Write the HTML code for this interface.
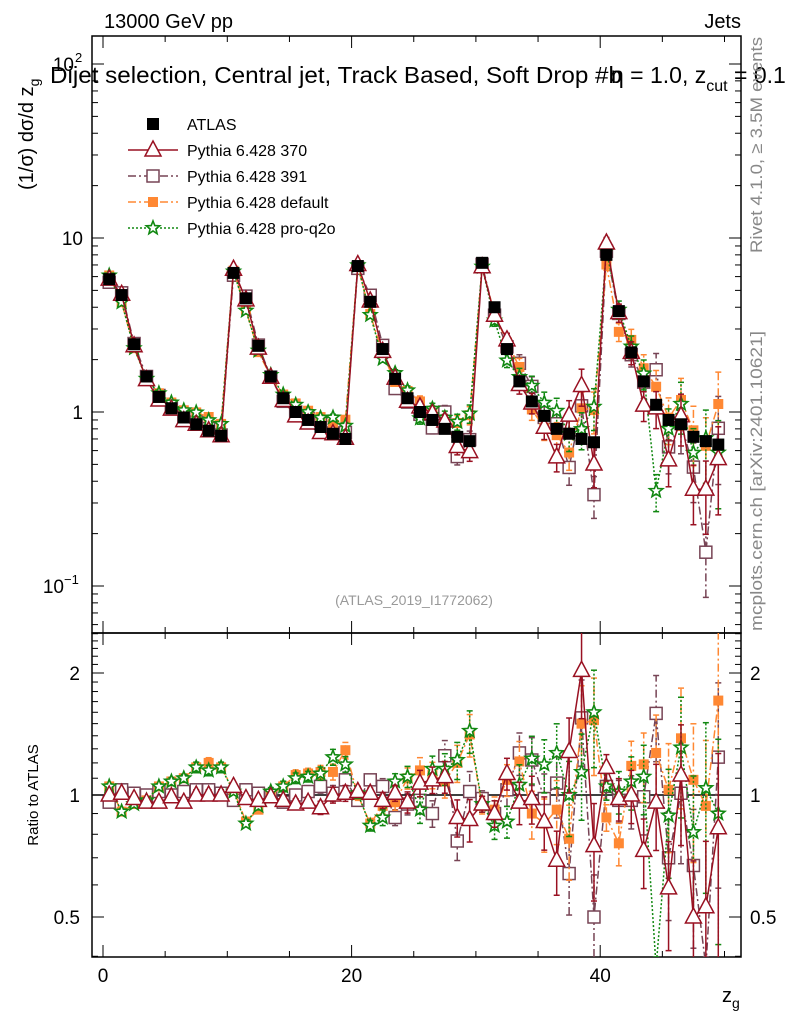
<!DOCTYPE html>
<html><head><meta charset="utf-8"><style>
html,body{margin:0;background:#fff;width:786px;height:1024px;overflow:hidden;}
svg{display:block;font-family:"Liberation Sans",sans-serif;}
</style></head><body>
<svg id="c" width="786" height="1024" viewBox="0 0 786 1024"></svg>
<script>
const atlas=[5.8,4.7,2.45,1.6,1.22,1.05,0.93,0.85,0.78,0.73,
6.3,4.5,2.4,1.6,1.2,1.0,0.9,0.82,0.75,0.70,
6.9,4.3,2.3,1.55,1.2,1.0,0.9,0.8,0.72,0.68,
7.2,4.0,2.3,1.5,1.15,0.95,0.8,0.75,0.7,0.67,
8.0,3.8,2.2,1.5,1.1,0.9,0.85,0.72,0.68,0.65];
const ratio370=[1.0,1.01,0.98,0.96,0.96,0.99,0.96,1.0,1.0,1.0,1.05,0.98,0.97,0.99,0.97,0.95,0.96,0.93,1.0,1.01,1.02,1.01,0.97,1.01,0.96,
1.07,1.09,1.11,0.88,0.87,0.95,0.9,1.13,0.96,0.98,0.86,0.69,1.28,2.03,0.75,1.17,0.98,1.0,0.73,0.96,0.59,1.12,0.5,0.53,0.83];
const ratio391=[0.96,1.03,1.01,1.0,1.02,1.0,1.02,1.03,1.03,1.01,0.97,1.03,1.01,0.99,0.96,1.0,1.02,1.05,1.01,1.09,0.97,1.09,1.05,0.88,0.95,
0.97,0.9,1.25,0.77,1.02,0.98,0.9,1.03,1.27,1.22,0.98,1.07,0.64,1.55,0.5,1.05,0.97,0.97,0.99,1.59,0.7,1.01,0.67,0.23,1.24];
const ratioDef=[1.05,0.91,0.95,0.97,1.05,1.08,1.1,1.17,1.2,1.17,1.03,0.86,0.92,1.0,1.05,1.12,1.13,1.14,1.14,1.29,1.0,0.85,0.94,0.96,1.1,
1.15,1.12,1.08,1.2,1.41,0.94,0.92,1.09,1.21,0.9,0.85,0.92,0.78,1.5,1.53,0.88,0.76,1.18,1.19,1.27,1.03,1.38,1.09,0.94,1.71];
const ratioQ2o=[1.05,0.91,0.95,0.97,1.05,1.08,1.1,1.17,1.15,1.17,1.02,0.85,0.94,1.02,1.05,1.1,1.11,1.13,1.24,1.19,1.01,0.84,0.88,1.08,1.11,
0.92,1.16,1.16,1.22,1.44,0.95,0.84,0.86,1.06,1.23,1.19,1.27,1.0,1.14,1.6,1.05,1.02,1.08,1.11,0.32,0.89,1.31,0.81,1.04,0.9];
const relErr=[0.01,0.01,0.01,0.01,0.01,0.015,0.015,0.02,0.02,0.02,0.01,0.01,0.015,0.015,0.02,0.02,0.02,0.025,0.03,0.03,0.02,0.02,0.03,0.03,0.04,
0.05,0.05,0.06,0.07,0.08,0.03,0.05,0.06,0.08,0.09,0.1,0.12,0.14,0.16,0.18,0.05,0.08,0.1,0.13,0.16,0.2,0.22,0.25,0.3,0.35];
const xTicks=[0,20,40];
const ratioTicks=[0.5,1,2];

const NS="http://www.w3.org/2000/svg";
const svg=document.getElementById('c');
function el(t,a,p){const e=document.createElementNS(NS,t);for(const k in a)e.setAttribute(k,a[k]);(p||svg).appendChild(e);return e;}
const L=92,R=741,T1=36,B1=633,B2=957;
const X=v=>103+12.43*v;
const YM=v=>412-174*Math.log10(v);
const YR=r=>795-122*Math.log2(r);

const defs=el('defs',{});
const c1=el('clipPath',{id:'cm'},defs);el('rect',{x:L,y:T1,width:R-L,height:B1-T1},c1);
const c2=el('clipPath',{id:'cr'},defs);el('rect',{x:L,y:B1,width:R-L,height:B2-B1},c2);

let f=el('rect',{x:L,y:T1,width:R-L,height:B1-T1,fill:'none',stroke:'#000','stroke-width':1.5});

f=el('rect',{x:L,y:B1,width:R-L,height:B2-B1,fill:'none',stroke:'#000','stroke-width':1.5});


const gT=el('g',{stroke:'#000','stroke-width':1});

for(let d=-2;d<=2;d++)for(let m=1;m<10;m++){const v=m*Math.pow(10,d);const y=YM(v);if(y<T1||y>B1)continue;const len=m==1?12:6;
el('line',{x1:L,x2:L+len,y1:y,y2:y},gT);el('line',{x1:R,x2:R-len,y1:y,y2:y},gT);}
for(let k=3;k<=25;k++){const r=k/10;const y=YR(r);if(y<B1||y>B2)continue;const len=(r==0.5||r==1||r==2)?12:6;
el('line',{x1:L,x2:L+len,y1:y,y2:y},gT);el('line',{x1:R,x2:R-len,y1:y,y2:y},gT);}
for(let v=0;v<=50;v+=5){const x=X(v);const len=(v%20==0)?12:6;
[[T1,1],[B1,-1],[B1,1],[B2,-1]].forEach(([y,s])=>el('line',{x1:x,x2:x,y1:y,y2:y+s*len},gT));}
let ol=el('line',{x1:L,x2:R,y1:YR(1),y2:YR(1),stroke:'#000','stroke-width':1.5});


function txt(s,a,name){const t=el('text',a);t.textContent=s;return t;}
txt('10',{x:83,y:YM(10)+7,'font-size':19,'text-anchor':'end'},'y-tick-10');
txt('1',{x:83,y:YM(1)+7,'font-size':19,'text-anchor':'end'},'y-tick-1');
txt('10',{x:74,y:YM(100)+7,'font-size':19,'text-anchor':'end'},'y-tick-100');
txt('2',{x:75,y:YM(100)-2,'font-size':13},'y-tick-100-exp');
txt('10',{x:64,y:YM(0.1)+7,'font-size':19,'text-anchor':'end'},'y-tick-0.1');
txt('−1',{x:64,y:YM(0.1)-2,'font-size':13},'y-tick-0.1-exp');
ratioTicks.forEach(r=>{txt(String(r),{x:80,y:YR(r)+7,'font-size':19,'text-anchor':'end'},'ratio-tick-left');
txt(String(r),{x:750,y:YR(r)+7,'font-size':19},'ratio-tick-right');});
xTicks.forEach(v=>txt(String(v),{x:X(v),y:982,'font-size':19,'text-anchor':'middle'},'x-tick-label'));
let t=txt('z',{x:722,y:1002,'font-size':20},'x-axis-title');el('tspan',{dy:6,'font-size':14},t).textContent='g';

txt('13000 GeV pp',{x:104,y:28,'font-size':20},'energy-label');
txt('Jets',{x:741,y:28,'font-size':20,'text-anchor':'end'},'process-label');
txt('Dijet selection, Central jet, Track Based, Soft Drop #b',{x:50,y:83,'font-size':23,textLength:572,lengthAdjust:'spacingAndGlyphs'},'plot-title');
t=txt('η = 1.0, z',{x:611,y:83,'font-size':23},'plot-title-2');el('tspan',{dy:8,'font-size':16},t).textContent='cut';
el('tspan',{dy:-8,'font-size':23},t).textContent=' = 0.1';
t=txt('(1/σ) dσ/d z',{x:0,y:0,'font-size':20,transform:'translate(33,190) rotate(-90)'},'y-axis-title');
el('tspan',{dy:6,'font-size':14},t).textContent='g';
txt('Ratio to ATLAS',{x:0,y:0,'font-size':15,'text-anchor':'middle',transform:'translate(38,795) rotate(-90)'},'ratio-axis-title');
txt('Rivet 4.1.0, ≥ 3.5M events',{x:0,y:0,'font-size':17,fill:'#888','text-anchor':'end',textLength:216,lengthAdjust:'spacingAndGlyphs',transform:'translate(762,37) rotate(-90)'},'rivet-label');
txt('mcplots.cern.ch [arXiv:2401.10621]',{x:0,y:0,'font-size':17,fill:'#888','text-anchor':'end',textLength:300,lengthAdjust:'spacingAndGlyphs',transform:'translate(762,331) rotate(-90)'},'mcplots-label');
txt('(ATLAS_2019_I1772062)',{x:414,y:605,'font-size':14,fill:'#999','text-anchor':'middle'},'analysis-id');

function marker(g,kind,x,y,col){
 if(kind=='tri')el('path',{d:`M${x} ${y-9}L${x+8} ${y+6}L${x-8} ${y+6}Z`,fill:'#fff',stroke:col,'stroke-width':1.5},g);
 else if(kind=='osq')el('rect',{x:x-6,y:y-6,width:12,height:12,fill:'#fff',stroke:col,'stroke-width':1.5},g);
 else if(kind=='fsq')el('rect',{x:x-5,y:y-5,width:10,height:10,fill:col},g);
 else if(kind=='bsq')el('rect',{x:x-6,y:y-6,width:12,height:12,fill:col},g);
 else if(kind=='star'){let p='';for(let i=0;i<10;i++){const a=-Math.PI/2+i*Math.PI/5,rr=i%2?3:7;p+=(i?'L':'M')+(x+rr*Math.cos(a)).toFixed(1)+' '+(y+rr*Math.sin(a)).toFixed(1);}
  el('path',{d:p+'Z',fill:'#fff',stroke:col,'stroke-width':1.6},g);}
}
const series=[
 {name:'pythia-391',ratio:ratio391,col:'#774455',kind:'osq',dash:'8,3,2,3'},
 {name:'pythia-default',ratio:ratioDef,col:'#ff8833',kind:'fsq',dash:'8,3,2,3'},
 {name:'pythia-pro-q2o',ratio:ratioQ2o,col:'#118811',kind:'star',dash:'2,2'},
 {name:'pythia-370',ratio:ratio370,col:'#991122',kind:'tri',dash:'none'},
];
const clampY=(y,lo,hi)=>Math.min(hi,Math.max(lo,y));
series.forEach(s=>{
 ['main','ratio'].forEach(panel=>{
  const g=el('g',{'clip-path':panel=='main'?'url(#cm)':'url(#cr)'});
  
  const lo=panel=='main'?T1:B1, hi=panel=='main'?B1:B2;
  const pts=s.ratio.map((r,i)=>{const v=panel=='main'?atlas[i]*r:r;const Y=panel=='main'?YM:YR;
   const e=relErr[i];return {x:X(i+0.5),y:clampY(Y(v),lo-10,hi+10),yl:clampY(Y(Math.max(v*(1-e*1.5),1e-4)),lo,hi),yh:clampY(Y(v*(1+e*1.5)),lo,hi)};});
  el('path',{d:pts.map((p,i)=>(i?'L':'M')+p.x.toFixed(1)+' '+p.y.toFixed(1)).join(''),fill:'none',stroke:s.col,'stroke-width':1.5,'stroke-dasharray':s.dash},g);
  pts.forEach(p=>{el('line',{x1:p.x,x2:p.x,y1:p.yl,y2:p.yh,stroke:s.col,'stroke-width':1.5,'stroke-dasharray':s.dash},g);
   if(p.yl<hi)el('line',{x1:p.x-3,x2:p.x+3,y1:p.yl,y2:p.yl,stroke:s.col,'stroke-width':1.5},g);
   if(p.yh>lo)el('line',{x1:p.x-3,x2:p.x+3,y1:p.yh,y2:p.yh,stroke:s.col,'stroke-width':1.5},g);
   if(p.y>lo-5&&p.y<hi+5)marker(g,s.kind,p.x,p.y,s.col);});
 });
});
const gd=el('g',{'clip-path':'url(#cm)'});

atlas.forEach((v,i)=>marker(gd,'bsq',X(i+0.5),YM(v),'#000'));

const leg=[['ATLAS','bsq','#000','none'],['Pythia 6.428 370','tri','#991122','none'],['Pythia 6.428 391','osq','#774455','8,3,2,3'],['Pythia 6.428 default','fsq','#ff8833','8,3,2,3'],['Pythia 6.428 pro-q2o','star','#118811','2,2']];
leg.forEach((l,i)=>{const y=124+i*26;const g=el('g',{});
 
 if(i>0)el('line',{x1:128,x2:178,y1:y,y2:y,stroke:l[2],'stroke-width':1.5,'stroke-dasharray':l[3]},g);
 marker(g,l[1],153,y,l[2]);
 const tt=el('text',{x:187,y:y+6,'font-size':16},g);tt.textContent=l[0];});
</script>
</body></html>
